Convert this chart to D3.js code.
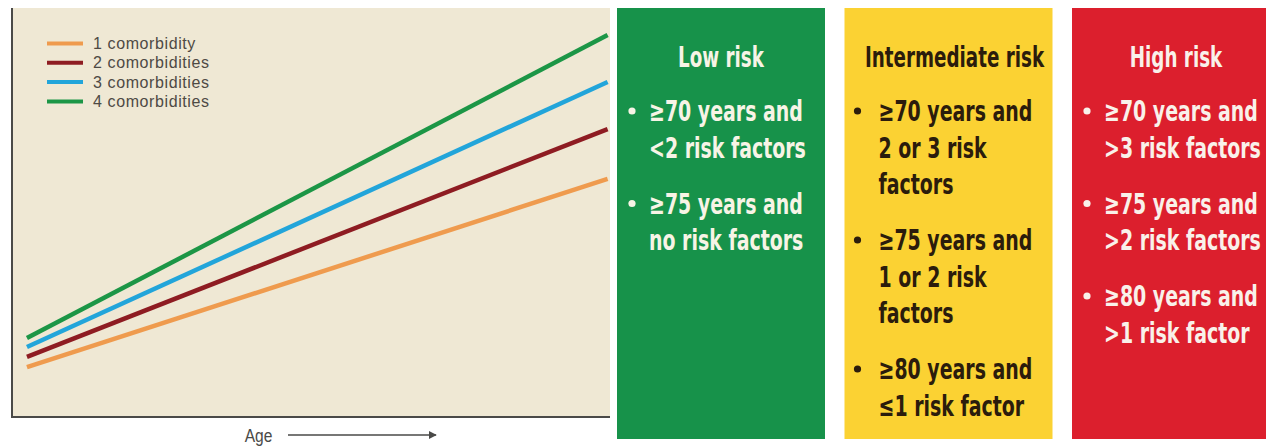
<!DOCTYPE html>
<html>
<head>
<meta charset="utf-8">
<script src="https://cdn.jsdelivr.net/npm/d3@7"></script>
<style>
  html, body { margin: 0; padding: 0; background: #ffffff; }
  svg { display: block; }
</style>
</head>
<body>
<script>
// ---------------- data ----------------
const seriesNames = ["1 comorbidity", "2 comorbidities", "3 comorbidities", "4 comorbidities"];
const seriesColors = ["#ef9b4e", "#8e1c22", "#22a5da", "#1c9646"];
const ageValues = [2.5, 99.6];              // relative age (start, end)
const risk1 = [12.2, 58.2];                 // relative risk, 1 comorbidity
const risk2 = [14.7, 70.4];                 // 2 comorbidities
const risk3 = [17.1, 81.9];                 // 3 comorbidities
const risk4 = [19.3, 93.4];                 // 4 comorbidities
const xAxisLabel = "Age";

const riskTitles = ["Low risk", "Intermediate risk", "High risk"];
const riskColors = ["#17924a", "#fbd233", "#dc1f2d"];
const riskTextColors = ["#f7f4e6", "#2b1c0c", "#f9f1ea"];
const lowRisk = [["≥70 years and", "<2 risk factors"], ["≥75 years and", "no risk factors"]];
const intermediateRisk = [["≥70 years and", "2 or 3 risk", "factors"], ["≥75 years and", "1 or 2 risk", "factors"], ["≥80 years and", "≤1 risk factor"]];
const highRisk = [["≥70 years and", ">3 risk factors"], ["≥75 years and", ">2 risk factors"], ["≥80 years and", ">1 risk factor"]];
const riskCriteria = [lowRisk, intermediateRisk, highRisk];

// ---------------- layout ----------------
const W = 1266, H = 446;
const svg = d3.select("body").append("svg").attr("width", W).attr("height", H);

const plot = { left: 12, right: 610, top: 8, bottom: 417 };
const x = d3.scaleLinear().domain([0, 100]).range([plot.left, plot.right]);
const y = d3.scaleLinear().domain([0, 100]).range([plot.bottom, plot.top]);

// plot background
svg.append("rect")
  .attr("x", plot.left).attr("y", plot.top)
  .attr("width", plot.right - plot.left).attr("height", plot.bottom - plot.top)
  .attr("fill", "#efe8d4");

// lines
const allRisk = [risk1, risk2, risk3, risk4];
const line = d3.line().x(d => x(d[0])).y(d => y(d[1]));
allRisk.forEach((r, i) => {
  svg.append("path")
    .datum(ageValues.map((a, k) => [a, r[k]]))
    .attr("d", line)
    .attr("fill", "none")
    .attr("stroke", seriesColors[i])
    .attr("stroke-width", 4.5)
    .attr("stroke-linecap", "butt");
});

// axes (no ticks)
const xAxis = d3.axisBottom(x).tickValues([]).tickSizeOuter(0);
const yAxis = d3.axisLeft(y).tickValues([]).tickSizeOuter(0);
const gx = svg.append("g").attr("transform", `translate(0,${plot.bottom})`).call(xAxis);
const gy = svg.append("g").attr("transform", `translate(${plot.left},0)`).call(yAxis);
[gx, gy].forEach(g => g.select(".domain").attr("stroke", "#4a4a48").attr("stroke-width", 2));
gx.select(".domain").attr("d", `M${plot.left - 1},0H${plot.right}`);
gy.select(".domain").attr("d", `M0,${plot.top}V${plot.bottom + 1}`);

// x-axis label with arrow
svg.append("defs").append("marker")
  .attr("id", "arrow").attr("viewBox", "0 0 10 10")
  .attr("refX", 9).attr("refY", 5)
  .attr("markerWidth", 5).attr("markerHeight", 5)
  .attr("orient", "auto")
  .append("path").attr("d", "M0,0L10,5L0,10Z").attr("fill", "#4a4a48");
svg.append("g")
  .attr("transform", "translate(258.5,442) scale(0.82,1)")
  .append("text")
  .attr("text-anchor", "middle")
  .attr("font-family", "'Liberation Sans', Arial, sans-serif")
  .attr("font-size", 19)
  .attr("fill", "#4a4a48")
  .text(xAxisLabel);
svg.append("line")
  .attr("x1", 288).attr("x2", 436).attr("y1", 435).attr("y2", 435)
  .attr("stroke", "#4a4a48").attr("stroke-width", 1.6)
  .attr("marker-end", "url(#arrow)");

// legend
const legend = svg.append("g");
seriesNames.forEach((n, i) => {
  const cy = 43.5 + i * 19.3;
  legend.append("line")
    .attr("x1", 47).attr("x2", 83).attr("y1", cy).attr("y2", cy)
    .attr("stroke", seriesColors[i]).attr("stroke-width", 4);
  legend.append("text")
    .attr("x", 93).attr("y", cy + 5.5)
    .attr("font-family", "'Liberation Sans', Arial, sans-serif")
    .attr("font-size", 16)
    .attr("letter-spacing", 0.6)
    .attr("fill", "#4e4a44")
    .text(n);
});

// ---------------- risk boxes ----------------
const boxX = d3.scaleLinear().domain([0, 2]).range([617, 1072]);
const boxW = 208;
const boxTop = 8, boxBottom = 439;
const fontFam = "'Liberation Sans Narrow', 'DejaVu Sans Condensed', 'Liberation Sans', Arial, sans-serif";
const bodySize = 29, titleSize = 28;

// measure a reference line to derive a horizontal condensing factor
const probe = svg.append("text").attr("font-family", fontFam).attr("font-weight", "bold")
  .attr("font-size", bodySize).text("≥70 years and");
const probeW = probe.node().getComputedTextLength();
probe.remove();
const sx = 154 / probeW;

riskTitles.forEach((t, i) => {
  const bx = boxX(i), bw = boxW;
  svg.append("rect")
    .attr("x", bx).attr("y", boxTop)
    .attr("width", bw).attr("height", boxBottom - boxTop)
    .attr("fill", riskColors[i]);
  const col = riskTextColors[i];
  svg.append("g")
    .attr("transform", `translate(${bx + bw / 2 + (i === 1 ? 6 : 0)},${57}) scale(${sx},1)`)
    .append("text")
    .attr("text-anchor", "middle").attr("dy", "0.36em")
    .attr("font-family", fontFam).attr("font-weight", "bold")
    .attr("font-size", titleSize).attr("fill", col)
    .text(t);
  let cy = 111;
  const dotX = bx + (i === 1 ? 13 : 15), textX = bx + (i === 1 ? 34 : 32);
  riskCriteria[i].forEach(bullet => {
    svg.append("circle").attr("cx", dotX).attr("cy", cy).attr("r", 3.6).attr("fill", col);
    bullet.forEach((ln, k) => {
      svg.append("g")
        .attr("transform", `translate(${textX},${cy}) scale(${sx},1)`)
        .append("text")
        .attr("dy", "0.36em")
        .attr("font-family", fontFam).attr("font-weight", "bold")
        .attr("font-size", bodySize).attr("fill", col)
        .text(ln);
      if (k < bullet.length - 1) cy += 36.5;
    });
    cy += 56;
  });
});
</script>
</body>
</html>
